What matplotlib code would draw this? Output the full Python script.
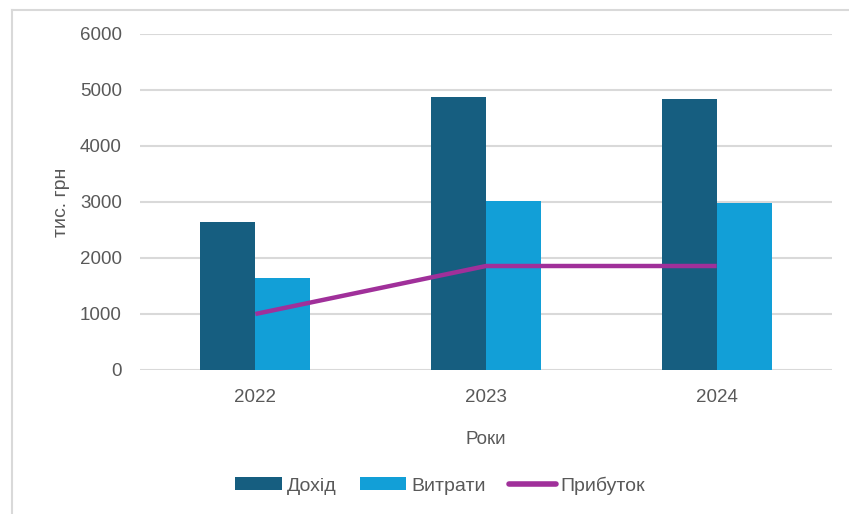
import numpy as np
import matplotlib
matplotlib.use('Agg')
import matplotlib.pyplot as plt
from matplotlib.lines import Line2D

plt.rcParams['font.family'] = ['Liberation Sans', 'DejaVu Sans']

# ---- data ----
years = ['2022', '2023', '2024']
income = [2643, 4875, 4840]     # Дохід
expenses = [1643, 3018, 2983]   # Витрати
profit = [1000, 1857, 1857]     # Прибуток

c_income = '#165E80'
c_exp = '#129FD7'
c_profit = '#A0309A'
c_text = '#595959'
c_grid = '#D9D9D9'

fig = plt.figure(figsize=(8.49, 5.14), dpi=100)
ax = fig.add_axes([140/849, 1-370/514, 692/849, 336/514])

x = np.arange(len(years))
w = 0.238
b1 = ax.bar(x - w/2, income, width=w, color=c_income, label='Дохід', zorder=3)
b2 = ax.bar(x + w/2, expenses, width=w, color=c_exp, label='Витрати', zorder=3)
l1, = ax.plot(x, profit, color=c_profit, linewidth=3.2, solid_capstyle='butt',
              label='Прибуток', zorder=4)

ax.set_xlim(-0.5, 2.5)
ax.set_ylim(0, 6000)
ax.set_yticks(range(0, 6001, 1000))
ax.set_xticks(x)
ax.set_xticklabels(years)
ax.yaxis.grid(True, color=c_grid, linewidth=1.5, zorder=0)
ax.set_axisbelow(True)
for s in ax.spines.values():
    s.set_visible(False)
ax.tick_params(length=0, labelsize=13.5, colors=c_text)
ax.tick_params(axis='y', pad=13)
ax.tick_params(axis='x', pad=14)

ax.set_ylabel('тис. грн', fontsize=14, color=c_text, labelpad=7)
ax.set_xlabel('Роки', fontsize=13.5, color=c_text, labelpad=18)

h_line = Line2D([], [], color=c_profit, linewidth=4, solid_capstyle='round')
ax.legend([b1, b2, h_line], ['Дохід', 'Витрати', 'Прибуток'],
          loc='center', bbox_to_anchor=(440/849, 1-485.5/514),
          bbox_transform=fig.transFigure, ncol=3, frameon=False,
          fontsize=14, labelcolor=c_text, handlelength=2.4, handleheight=0.65,
          handletextpad=0.25, columnspacing=1.2)

# chart border (top and left edges visible)
fig.add_artist(Line2D([12/849, 1], [1-9.5/514, 1-9.5/514],
                      transform=fig.transFigure, color='#D9D9D9', linewidth=1.5))
fig.add_artist(Line2D([12/849, 12/849], [0, 1-9.5/514],
                      transform=fig.transFigure, color='#D9D9D9', linewidth=1.5))

fig.savefig('out.png', dpi=100)
